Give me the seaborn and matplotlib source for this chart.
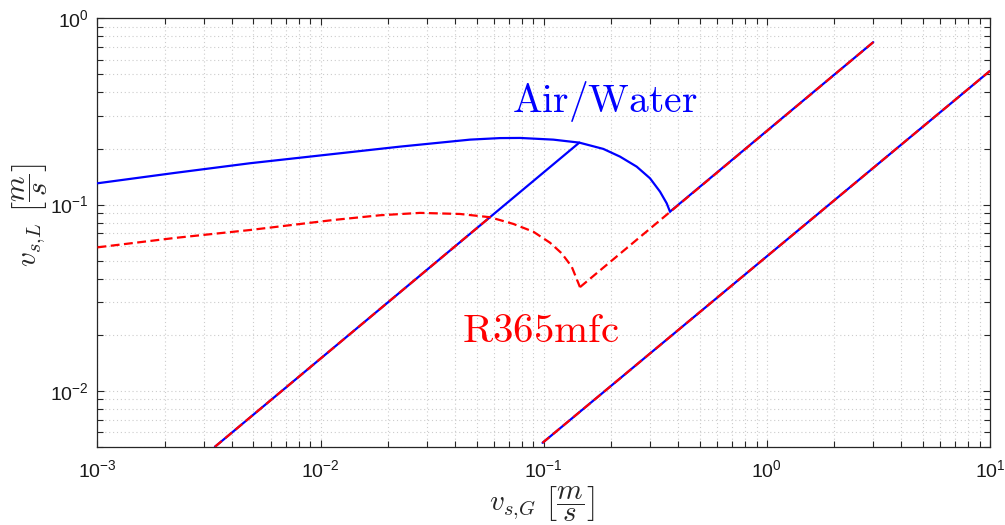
import numpy as np
import pandas as pd
import matplotlib
matplotlib.use("Agg")
import matplotlib.pyplot as plt
import seaborn as sns
from matplotlib.ticker import LogLocator, FuncFormatter, NullFormatter

# ---- data ----
# Air/Water (blue, solid)
aw_curve_x = [0.001, 0.00223, 0.00483, 0.01, 0.0227, 0.04673, 0.0637, 0.0783, 0.1104, 0.1444,
              0.1850, 0.2198, 0.2611, 0.2995, 0.3321, 0.3558, 0.3682]
aw_curve_y = [0.1301, 0.148, 0.1667, 0.1836, 0.2047, 0.2232, 0.2275, 0.2279, 0.2232, 0.2151,
              0.1990, 0.1809, 0.1598, 0.1384, 0.1173, 0.1016, 0.0916]
aw_lineA_x = [0.00336, 0.1444]
aw_lineA_y = [0.0050, 0.2151]
aw_lineB_x = [0.3682, 3.0]
aw_lineB_y = [0.0916, 0.745]
aw_lineC_x = [0.0988, 10.0]
aw_lineC_y = [0.00525, 0.522]

# R365mfc (red, dashed)
r_curve_x = [0.001, 0.00223, 0.00483, 0.0114, 0.01846, 0.0279, 0.0422, 0.0574, 0.0731, 0.0898,
             0.1067, 0.1204, 0.1335, 0.1454]
r_curve_y = [0.0589, 0.0662, 0.0730, 0.0826, 0.0876, 0.0902, 0.0890, 0.0855, 0.0787, 0.0715,
             0.0624, 0.0547, 0.0464, 0.0360]
r_lineA_x = [0.00336, 0.0574]
r_lineA_y = [0.0050, 0.0855]
r_lineB_x = [0.1454, 3.0]
r_lineB_y = [0.0360, 0.745]
r_lineC_x = [0.0988, 10.0]
r_lineC_y = [0.00525, 0.522]

x_ticks = [1e-3, 1e-2, 1e-1, 1e0, 1e1]
y_ticks = [1e-2, 1e-1, 1e0]

sns.set_theme(style="ticks")
plt.rcParams["font.family"] = ["Liberation Sans", "DejaVu Sans"]
plt.rcParams["mathtext.fontset"] = "cm"

fig = plt.figure(figsize=(10.05, 5.25), dpi=100)
ax = fig.add_axes([0.097, 0.149, 0.888, 0.816])

blue = "#0000ff"
red = "#ff0000"

for xs, ys in [(aw_curve_x, aw_curve_y), (aw_lineA_x, aw_lineA_y),
               (aw_lineB_x, aw_lineB_y), (aw_lineC_x, aw_lineC_y)]:
    df = pd.DataFrame({"x": xs, "y": ys})
    sns.lineplot(data=df, x="x", y="y", ax=ax, color=blue, lw=1.6,
                 sort=False, estimator=None, zorder=3)

for xs, ys in [(r_curve_x, r_curve_y), (r_lineA_x, r_lineA_y),
               (r_lineB_x, r_lineB_y), (r_lineC_x, r_lineC_y)]:
    df = pd.DataFrame({"x": xs, "y": ys})
    sns.lineplot(data=df, x="x", y="y", ax=ax, color=red, lw=1.6,
                 linestyle=(0, (4, 2)), sort=False, estimator=None, zorder=4)

ax.set_xscale("log")
ax.set_yscale("log")

def fmt(v, pos):
    e = int(round(np.log10(v)))
    return r"$\mathdefault{10^{%d}}$" % e

ax.xaxis.set_minor_locator(LogLocator(base=10, subs=np.arange(2, 10), numticks=20))
ax.yaxis.set_minor_locator(LogLocator(base=10, subs=np.arange(2, 10), numticks=20))
ax.set_xticks(x_ticks)
ax.set_yticks(y_ticks)
ax.xaxis.set_major_formatter(FuncFormatter(fmt))
ax.yaxis.set_major_formatter(FuncFormatter(fmt))
ax.xaxis.set_minor_formatter(NullFormatter())
ax.yaxis.set_minor_formatter(NullFormatter())
ax.set_xlim(1e-3, 1e1)
ax.set_ylim(5e-3, 1e0)

ax.grid(True, which="both", linestyle=(0, (1, 2.5)), color="#cccccc", lw=0.8)
ax.tick_params(which="both", direction="in", top=True, right=True,
               color="#262626", width=0.8)
ax.tick_params(which="major", length=5, labelsize=14, labelcolor="#1a1a1a")
ax.tick_params(axis="x", which="major", pad=9)
ax.tick_params(axis="y", which="major", pad=6)
ax.tick_params(which="minor", length=4)
for s in ax.spines.values():
    s.set_color("#262626")
    s.set_linewidth(0.9)

ax.set_xlabel(r"$v_{s{,}G}\ \left[\dfrac{m}{s}\right]$", fontsize=21)
ax.set_ylabel(r"$v_{s{,}L}\ \left[\dfrac{m}{s}\right]$", fontsize=21)
ax.xaxis.set_label_coords(0.4975, -0.088)
ax.yaxis.set_label_coords(-0.053, 0.54)

ax.text(0.0719, 0.313, r"$\mathrm{Air/Water}$", color=blue, fontsize=28.5,
        ha="left", va="baseline")
ax.text(0.0430, 0.01834, r"$\mathrm{R365mfc}$", color=red, fontsize=29.5,
        ha="left", va="baseline")

fig.savefig("out.png", dpi=100)
